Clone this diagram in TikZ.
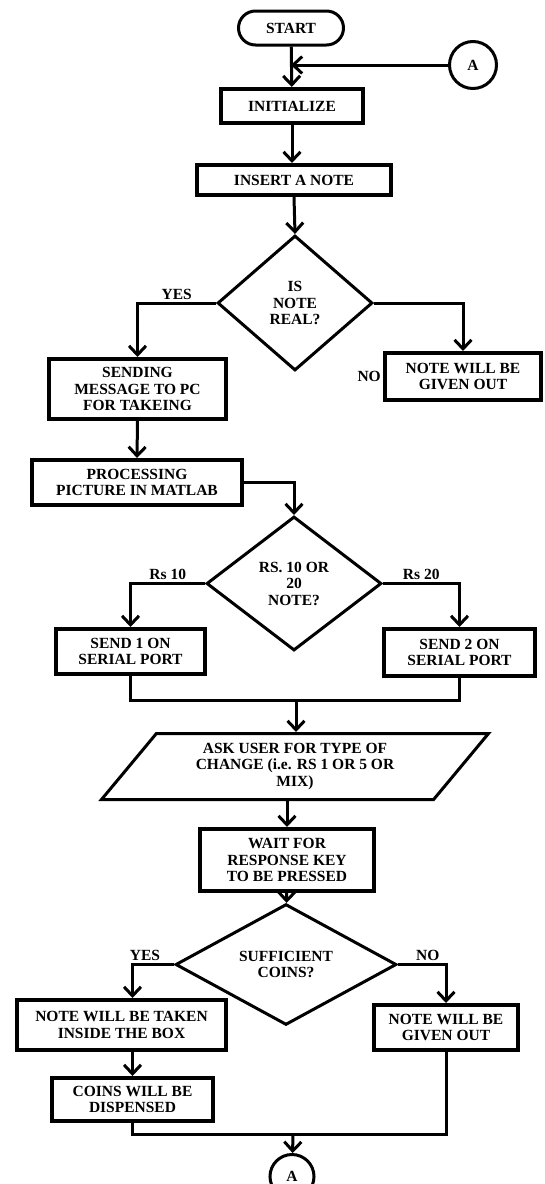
\documentclass[tikz,border=0pt]{standalone}
\usepackage{fontspec}
\setmainfont{Liberation Serif}
\usetikzlibrary{arrows.meta,shapes.geometric}

\tikzset{
  base/.style={font=\bfseries\fontsize{15.5}{16.5}\selectfont, align=center, inner sep=1pt},
  term/.style={base, draw, line width=3pt, rounded corners=17pt},
  conn/.style={base, draw, circle, line width=3pt},
  box/.style={base, draw, line width=4pt},
  decision/.style={base, draw, diamond, line width=3pt, inner sep=0pt},
  io/.style={base, draw, trapezium, trapezium left angle=41.5, trapezium right angle=138.5,
    trapezium stretches body, line width=3pt},
  flow/.style={line width=3pt, -{Straight Barb[length=9pt,width=17pt]}},
  link/.style={line width=3pt},
  tag/.style={font=\bfseries\fontsize{15.5}{16.5}\selectfont, inner sep=2pt},
}

\begin{document}
\begin{tikzpicture}[x=1pt,y=-1pt]
\useasboundingbox (0,0) rectangle (544,1184);
\node[term, minimum width=105, minimum height=34] (start) at (291,28) {START};
\node[conn, minimum size=47] (connA) at (473,65) {A};
\node[box, minimum width=142, minimum height=34] (init) at (292,106) {INITIALIZE};
\node[box, minimum width=194, minimum height=30] (insert) at (294,180) {INSERT A NOTE};
\node[decision, minimum width=155, minimum height=135] (real) at (295,303) {IS\\NOTE\\REAL?};
\node[box, minimum width=177, minimum height=60] (send) at (137.5,389) {SENDING\\MESSAGE TO PC\\FOR TAKEING};
\node[box, minimum width=156, minimum height=47, label={[tag]left:NO}] (giveA) at (463,376.5) {NOTE WILL BE\\GIVEN OUT};
\node[box, minimum width=210, minimum height=45] (proc) at (137,482.5) {PROCESSING\\PICTURE IN MATLAB};
\node[decision, minimum width=175, minimum height=134] (amount) at (294,583.5) {RS. 10 OR\\20\\NOTE?};
\node[box, minimum width=149, minimum height=45] (one) at (130.5,651.5) {SEND 1 ON\\SERIAL PORT};
\node[box, minimum width=151, minimum height=47] (two) at (459.5,652.5) {SEND 2 ON\\SERIAL PORT};
\coordinate (m1) at (296,700);
\node[io, minimum width=387, minimum height=66] (ask) at (295,766.5) {ASK USER FOR TYPE OF\\CHANGE (i.e. RS 1 OR 5 OR\\MIX)};
\node[box, minimum width=174, minimum height=62] (wait) at (287,860) {WAIT FOR\\RESPONSE KEY\\TO BE PRESSED};
\node[decision, minimum width=221, minimum height=106] (enough) at (286,964.5) {SUFFICIENT\\COINS?};
\node[box, minimum width=209, minimum height=50] (take) at (121.5,1025) {NOTE WILL BE TAKEN\\INSIDE THE BOX};
\node[box, minimum width=144, minimum height=45] (giveB) at (446,1027.5) {NOTE WILL BE\\GIVEN OUT};
\node[box, minimum width=161, minimum height=43] (coins) at (132.5,1099.5) {COINS WILL BE\\DISPENSED};
\coordinate (m2) at (293,1134);
\node[conn, minimum size=44] (connB) at (292,1176.5) {A};

\draw[flow] (start) -- (init);
\draw[flow] (connA) -- (connA -| start);
\draw[flow] (init.south) -- (init.south |- insert.north);
\draw[flow] (insert.south) -- (real.north);
\draw[flow] (real.west) -| node[tag, above, pos=.25] (yes1) {YES} (send.north);
\draw[flow] (real.east) -| (giveA.north);
\draw[flow] (send.south) -- (proc.north);
\draw[flow] (proc.east) -| (amount.north);
\draw[flow] (amount.west) -| node[tag, above, pos=.25] (rs10) {Rs 10} (one.north);
\draw[flow] (amount.east) -| node[tag, above, pos=.25] (rs20) {Rs 20} (two.north);
\draw[link] (one.south) |- (m1) -| (two.south);
\draw[flow] (m1) -- (m1 |- ask.north);
\draw[flow] (ask.south -| wait.north) -- (wait.north);
\draw[flow] (wait) -- (enough);
\draw[flow] (enough.west) -| node[tag, above, pos=.35] (yes2) {YES} (coins.north |- take.north);
\draw[flow] (enough.east) -| node[tag, above, pos=.31] (no2) {NO} (giveB.north);
\draw[flow] (take.south -| coins.north) -- (coins.north);
\draw[link] (coins.south) |- (m2) -| (giveB.south);
\draw[flow] (m2) -- (connB);
\end{tikzpicture}
\end{document}
